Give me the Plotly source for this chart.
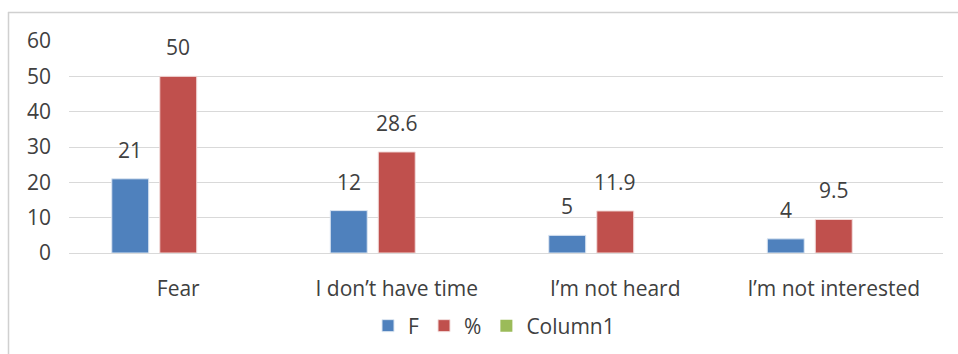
import plotly.graph_objects as go

categories = ["Fear", "I don\u2019t have time", "I\u2019m not heard", "I\u2019m not interested"]
f_values = [21, 12, 5, 4]
pct_values = [50, 28.6, 11.9, 9.5]
col1_values = [0, 0, 0, 0]
f_labels = ["21", "12", "5", "4"]
pct_labels = ["50", "28.6", "11.9", "9.5"]
y_ticks = [0, 10, 20, 30, 40, 50, 60]

BLUE = "#4F81BD"
RED = "#C0504D"
GREEN = "#9BBB59"
TXT = "#404040"
GRID = "#D9D9D9"
FONT = "Open Sans"
FS = 21

fig = go.Figure()
fig.add_trace(go.Bar(name="F", x=categories, y=f_values, marker=dict(color=BLUE, line=dict(color="#DCE6F2", width=1))))
fig.add_trace(go.Bar(name="%", x=categories, y=pct_values, marker=dict(color=RED, line=dict(color="#F2DCDB", width=1))))
fig.add_trace(go.Bar(name="Column1", x=categories, y=col1_values, marker=dict(color=GREEN, line=dict(width=0))))

annotations = []
for c, v, t in zip(categories, f_values, f_labels):
    annotations.append(dict(x=c, y=v, text=t, showarrow=False, xanchor="center", yanchor="bottom",
                            xshift=-48, yshift=13, font=dict(family=FONT, size=FS, color=TXT)))
for c, v, t in zip(categories, pct_values, pct_labels):
    annotations.append(dict(x=c, y=v, text=t, showarrow=False, xanchor="center", yanchor="bottom",
                            xshift=0, yshift=13, font=dict(family=FONT, size=FS, color=TXT)))

L, R, T, B = 69, 15, 41, 101
W, H = 958, 354
pw = W - L - R
ph = H - T - B
def px_x(x):
    return (x - L) / pw
def px_y(y):
    return (H - B - y) / ph

shapes = [
    dict(type="line", xref="paper", yref="paper", x0=px_x(8), x1=px_x(970), y0=px_y(12.5), y1=px_y(12.5),
         line=dict(color="#D0D0D0", width=1.5)),
    dict(type="line", xref="paper", yref="paper", x0=px_x(8.5), x1=px_x(8.5), y0=px_y(12), y1=px_y(370),
         line=dict(color="#D0D0D0", width=1.5)),
]

fig.update_layout(
    width=W, height=H,
    margin=dict(l=L, r=R, t=T, b=B, autoexpand=False),
    paper_bgcolor="white", plot_bgcolor="white",
    barmode="group", bargap=0.341, bargroupgap=0.23,
    font=dict(family=FONT, size=FS, color=TXT),
    showlegend=True,
    legend=dict(orientation="h", x=px_x(494), xanchor="center", y=px_y(326), yanchor="middle",
                font=dict(family=FONT, size=FS, color=TXT), itemwidth=30, traceorder="normal"),
    annotations=annotations,
    shapes=shapes,
    xaxis=dict(showgrid=False, showline=False, ticks="", ticklabelstandoff=21,
               tickfont=dict(family=FONT, size=FS, color=TXT)),
    yaxis=dict(range=[0, 60], tickvals=y_ticks, showgrid=True, gridcolor=GRID, gridwidth=1,
               zeroline=True, zerolinecolor=GRID, zerolinewidth=1, showline=False, ticks="",
               ticklabelstandoff=17, tickfont=dict(family=FONT, size=FS, color=TXT)),
)

fig.write_html("out.html")
